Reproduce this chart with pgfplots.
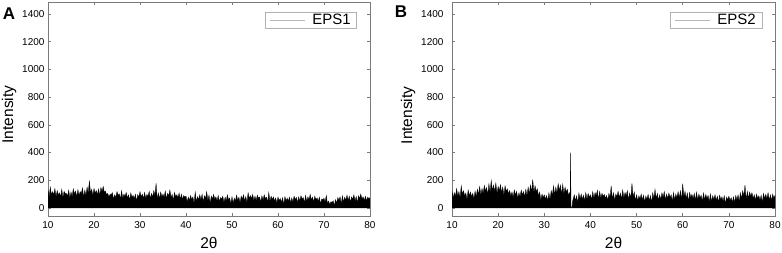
\documentclass[border=0pt]{standalone}
\usepackage{fontspec}
\setmainfont{Liberation Sans}
\usepackage{pgfplots}
\pgfplotsset{compat=1.18}

\definecolor{frame}{HTML}{7A7A7A}

\pgfplotsset{
  xrd/.style={
    scale only axis, height=214pt,
    xmin=10, xmax=80, ymin=-58, ymax=1486,
    xtick={10,20,...,80}, ytick={0,200,...,1400},
    tick align=inside, major tick length=3pt,
    axis line style={frame, line width=0.6pt},
    tick style={frame, line width=0.6pt},
    ticklabel style={font=\fontsize{10}{12}\selectfont},
    xticklabel style={yshift=-2pt},
    /pgf/number format/assume math mode=true,
    /pgf/number format/1000 sep={},
    xlabel={2θ},
    xlabel style={font=\fontsize{18}{20}\selectfont,
      at={(axis description cs:0.5,-0.126)}, anchor=center},
    ylabel={Intensity},
    label style={font=\fontsize{15.5}{18}\selectfont},
    legend style={at={(1,1)}, anchor=north east, xshift=-13pt, yshift=-10pt,
      draw=black!30, line width=0.5pt, fill=white,
      font=\fontsize{15}{18}\selectfont,
      inner xsep=5pt, inner ysep=1pt,
      nodes={inner xsep=1pt, inner ysep=1pt},
      /tikz/every odd column/.append style={column sep=6pt}},
    legend image code/.code={\draw[draw=black!28, line width=0.4pt] (0pt,0pt) -- (35pt,0pt);},
  },
  trace/.style={fill=black, draw=black, line width=0.3pt, no markers},
}

\begin{document}
\begin{tikzpicture}[x=1pt, y=1pt]
\useasboundingbox (0,0) rectangle (782,252);

% ---------------- panel A ----------------
\begin{axis}[xrd, width=322pt, at={(48pt,36pt)}, anchor=south west,
  ylabel style={at={(axis description cs:-0.121,0.474)}, anchor=center}]
\addplot[trace] coordinates {
 (10,130)(10.25,80)(10.5,150)(10.75,95)(11,118)(11.25,95)(11.5,140)(11.75,80)
 (12,125)(12.25,93)(12.5,110)(12.75,80)(13,135)(13.25,72)(13.5,120)(13.75,102)
 (14,105)(14.25,85)(14.5,128)(14.75,72)(15,115)(15.25,83)(15.5,138)(15.75,100)
 (16,122)(16.25,80)(16.5,132)(16.75,92)(17,118)(17.25,105)(17.5,145)(17.75,77)
 (18,128)(18.25,90)(18.5,150)(18.75,105)(19,198)(19.25,105)(19.5,135)(19.75,90)
 (20,140)(20.25,108)(20.5,125)(20.75,95)(21,138)(21.25,88)(21.5,148)(21.75,118)
 (22,155)(22.25,115)(22.5,120)(22.75,95)(23,105)(23.25,80)(23.5,98)(23.75,97)
 (24,110)(24.25,63)(24.5,95)(24.75,75)(25,118)(25.25,92)(25.5,102)(25.75,64)
 (26,125)(26.25,68)(26.5,100)(26.75,83)(27,112)(27.25,72)(27.5,95)(27.75,57)
 (28,108)(28.25,78)(28.5,90)(28.75,65)(29,100)(29.25,48)(29.5,96)(29.75,78)
 (30,118)(30.25,80)(30.5,100)(30.75,67)(31,112)(31.25,67)(31.5,98)(31.75,84)
 (32,120)(32.25,66)(32.5,105)(32.75,78)(33,125)(33.25,90)(33.5,178)(33.75,62)
 (34,108)(34.25,65)(34.5,115)(34.75,80)(35,100)(35.25,78)(35.5,122)(35.75,63)
 (36,105)(36.25,88)(36.5,130)(36.75,75)(37,98)(37.25,52)(37.5,112)(37.75,82)
 (38,95)(38.25,75)(38.5,108)(38.75,62)(39,100)(39.25,60)(39.5,90)(39.75,77)
 (40,85)(40.25,43)(40.5,78)(40.75,55)(41,90)(41.25,60)(41.5,80)(41.75,32)
 (42,115)(42.25,45)(42.5,82)(42.75,60)(43,95)(43.25,58)(43.5,100)(43.75,43)
 (44,88)(44.25,68)(44.5,118)(44.75,55)(45,92)(45.25,35)(45.5,85)(45.75,65)
 (46,98)(46.25,63)(46.5,80)(46.75,50)(47,90)(47.25,47)(47.5,75)(47.75,64)
 (48,85)(48.25,38)(48.5,78)(48.75,50)(49,95)(49.25,58)(49.5,72)(49.75,30)
 (50,80)(50.25,35)(50.5,70)(50.75,50)(51,92)(51.25,52)(51.5,78)(51.75,37)
 (52,85)(52.25,63)(52.5,95)(52.75,50)(53,82)(53.25,38)(53.5,110)(53.75,68)
 (54,90)(54.25,67)(54.5,98)(54.75,54)(55,85)(55.25,53)(55.5,92)(55.75,70)
 (56,80)(56.25,43)(56.5,88)(56.75,55)(57,95)(57.25,68)(57.5,78)(57.75,40)
 (58,112)(58.25,45)(58.5,85)(58.75,60)(59,80)(59.25,50)(59.5,72)(59.75,35)
 (60,78)(60.25,53)(60.5,68)(60.75,40)(61,75)(61.25,22)(61.5,82)(61.75,52)
 (62,70)(62.25,50)(62.5,78)(62.75,37)(63,72)(63.25,43)(63.5,85)(63.75,60)
 (64,76)(64.25,38)(64.5,80)(64.75,50)(65,88)(65.25,65)(65.5,75)(65.75,37)
 (66,92)(66.25,45)(66.5,80)(66.75,60)(67,98)(67.25,58)(67.5,78)(67.75,43)
 (68,85)(68.25,60)(68.5,72)(68.75,47)(69,78)(69.25,28)(69.5,65)(69.75,58)
 (70,70)(70.25,45)(70.5,90)(70.75,32)(71,50)(71.25,23)(71.5,45)(71.75,40)
 (72,52)(72.25,16)(72.5,60)(72.75,35)(73,75)(73.25,55)(73.5,80)(73.75,27)
 (74,88)(74.25,42)(74.5,78)(74.75,57)(75,92)(75.25,55)(75.5,85)(75.75,40)
 (76,80)(76.25,63)(76.5,95)(76.75,50)(77,82)(77.25,38)(77.5,88)(77.75,68)
 (78,100)(78.25,65)(78.5,80)(78.75,52)(79,85)(79.25,50)(79.5,78)(79.75,67)
 (80,75)
} \closedcycle;
\addlegendentry{EPS1}
\end{axis}

% ---------------- panel B ----------------
\begin{axis}[xrd, width=323pt, at={(452pt,36pt)}, anchor=south west,
  yticklabel style={xshift=-5pt},
  ylabel style={at={(axis description cs:-0.136,0.47)}, anchor=center}]
\addplot[trace] coordinates {
 (10,125)(10.25,70)(10.5,110)(10.75,85)(11,140)(11.25,85)(11.5,118)(11.75,70)
 (12,160)(12.25,98)(12.5,125)(12.75,85)(13,108)(13.25,58)(13.5,130)(13.75,88)
 (14,115)(14.25,80)(14.5,105)(14.75,67)(15,122)(15.25,80)(15.5,135)(15.75,97)
 (16,155)(16.25,93)(16.5,140)(16.75,105)(17,162)(17.25,122)(17.5,148)(17.75,94)
 (18,175)(18.25,110)(18.5,198)(18.75,125)(19,165)(19.25,118)(19.5,180)(19.75,103)
 (20,155)(20.25,123)(20.5,168)(20.75,110)(21,150)(21.25,90)(21.5,160)(21.75,120)
 (22,138)(22.25,100)(22.5,125)(22.75,87)(23,115)(23.25,77)(23.5,130)(23.75,94)
 (24,120)(24.25,68)(24.5,110)(24.75,80)(25,128)(25.25,95)(25.5,118)(25.75,80)
 (26,135)(26.25,85)(26.5,150)(26.75,100)(27,165)(27.25,115)(27.5,205)(27.75,110)
 (28,160)(28.25,118)(28.5,138)(28.75,85)(29,115)(29.25,55)(29.5,100)(29.75,75)
 (30,95)(30.25,63)(30.5,90)(30.75,50)(31,110)(31.25,60)(31.5,125)(31.75,90)
 (32,160)(32.25,93)(32.5,150)(32.75,105)(33,175)(33.25,125)(33.5,165)(33.75,97)
 (34,170)(34.25,100)(34.5,150)(34.75,115)(35,135)(35.25,90)(35.5,110)(35.6,80)
 (35.7,400)(35.78,40)(35.82,2)(36.02,2)(36.1,45)(36.25,63)(36.5,95)(36.75,50)
 (37,88)(37.25,35)(37.5,108)(37.75,65)(38,100)(38.25,63)(38.5,92)(38.75,50)
 (39,112)(39.25,60)(39.5,105)(39.75,77)(40,95)(40.25,58)(40.5,118)(40.75,70)
 (41,110)(41.25,88)(41.5,128)(41.75,60)(42,120)(42.25,70)(42.5,105)(42.75,85)
 (43,98)(43.25,70)(43.5,90)(43.75,55)(44,105)(44.25,76)(44.5,160)(44.75,63)
 (45,110)(45.25,52)(45.5,100)(45.75,82)(46,120)(46.25,75)(46.5,108)(46.75,62)
 (47,130)(47.25,70)(47.5,112)(47.75,87)(48,125)(48.25,58)(48.5,108)(48.75,70)
 (49,178)(49.25,78)(49.5,115)(49.75,50)(50,95)(50.25,50)(50.5,88)(50.75,65)
 (51,100)(51.25,58)(51.5,92)(51.75,43)(52,85)(52.25,63)(52.5,98)(52.75,50)
 (53,90)(53.25,38)(53.5,110)(53.75,68)(54,135)(54.25,67)(54.5,105)(54.75,54)
 (55,95)(55.25,60)(55.5,110)(55.75,77)(56,118)(56.25,56)(56.5,100)(56.75,68)
 (57,108)(57.25,75)(57.5,95)(57.75,47)(58,112)(58.25,58)(58.5,100)(58.75,73)
 (59,118)(59.25,70)(59.5,125)(59.75,55)(60,175)(60.25,80)(60.5,120)(60.75,67)
 (61,108)(61.25,45)(61.5,112)(61.75,75)(62,98)(62.25,67)(62.5,105)(62.75,54)
 (63,115)(63.25,55)(63.5,100)(63.75,72)(64,92)(64.25,46)(64.5,108)(64.75,58)
 (65,98)(65.25,68)(65.5,90)(65.75,40)(66,102)(66.25,45)(66.5,88)(66.75,60)
 (67,95)(67.25,55)(67.5,85)(67.75,40)(68,92)(68.25,60)(68.5,80)(68.75,47)
 (69,88)(69.25,30)(69.5,78)(69.75,60)(70,85)(70.25,53)(70.5,75)(70.75,40)
 (71,80)(71.25,40)(71.5,90)(71.75,57)(72,95)(72.25,43)(72.5,110)(72.75,65)
 (73,125)(73.25,85)(73.5,165)(73.75,57)(74,120)(74.25,68)(74.5,115)(74.75,83)
 (75,110)(75.25,70)(75.5,95)(75.75,55)(76,100)(76.25,68)(76.5,88)(76.75,55)
 (77,92)(77.25,38)(77.5,105)(77.75,68)(78,98)(78.25,67)(78.5,110)(78.75,54)
 (79,95)(79.25,53)(79.5,100)(79.75,70)(80,90)
} \closedcycle;
\addlegendentry{EPS2}
\end{axis}

\node[font=\bfseries\fontsize{17}{20}\selectfont] at (9,238) {A};
\node[font=\bfseries\fontsize{17}{20}\selectfont] at (401,240) {B};
\end{tikzpicture}
\end{document}
